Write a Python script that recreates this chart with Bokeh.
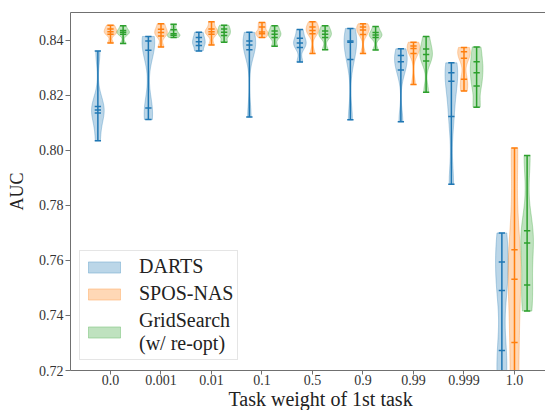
import numpy as np
from bokeh.plotting import figure
from bokeh.models import (Range1d, LinearAxis, FixedTicker, Legend, LegendItem,
                          NumeralTickFormatter, Title)
from bokeh.embed import file_html
from bokeh.resources import INLINE

categories = ["0.0", "0.001", "0.01", "0.1", "0.5", "0.9", "0.99", "0.999", "1.0"]
series_names = ["DARTS", "SPOS-NAS", "GridSearch\n(w/ re-opt)"]
colors = ["#1f77b4", "#ff7f0e", "#2ca02c"]
y_ticks = [0.72, 0.74, 0.76, 0.78, 0.80, 0.82, 0.84]
x_title = "Task weight of 1st task"
y_title = "AUC"

darts_min = [0.8035, 0.8112, 0.8361, 0.8121, 0.8321, 0.8111, 0.8104, 0.7877, 0.715]
darts_max = [0.8361, 0.8414, 0.8429, 0.8429, 0.8439, 0.8443, 0.8369, 0.8318, 0.7700]
darts_inner = [[0.8136, 0.8147, 0.8159], [0.8154, 0.8364, 0.8397], [0.8381, 0.8395, 0.8410],
               [0.8366, 0.8383, 0.8397], [0.8374, 0.8390, 0.8407], [0.8330, 0.8393, 0.8397],
               [0.8292, 0.8322, 0.8345], [0.8123, 0.8251, 0.8282], [0.7273, 0.7491, 0.7594]]

spos_min = [0.8390, 0.8376, 0.8383, 0.8410, 0.8352, 0.8352, 0.8239, 0.8216, 0.705]
spos_max = [0.8455, 0.8460, 0.8467, 0.8465, 0.8467, 0.8460, 0.8393, 0.8374, 0.8009]
spos_inner = [[0.8422, 0.8431, 0.8441], [0.8416, 0.8428, 0.8440], [0.8422, 0.8431, 0.8441],
              [0.8424, 0.8430, 0.8448], [0.8424, 0.8436, 0.8448], [0.8421, 0.8437, 0.8448],
              [0.8352, 0.8370, 0.8379], [0.8258, 0.8335, 0.8358], [0.7302, 0.7532, 0.7639]]

grid_min = [0.8388, 0.8410, 0.8393, 0.8378, 0.8366, 0.8365, 0.8211, 0.8157, 0.7416]
grid_max = [0.8453, 0.8458, 0.8455, 0.8453, 0.8453, 0.8450, 0.8414, 0.8376, 0.7981]
grid_inner = [[0.8422, 0.8429, 0.8436], [0.8418, 0.8424, 0.8438], [0.8417, 0.8429, 0.8441],
              [0.8410, 0.8422, 0.8434], [0.8410, 0.8422, 0.8434], [0.8410, 0.8419, 0.8428],
              [0.8325, 0.8348, 0.8368], [0.8234, 0.8282, 0.8322], [0.7511, 0.7663, 0.7708]]

series = [(darts_min, darts_max, darts_inner),
          (spos_min, spos_max, spos_inner),
          (grid_min, grid_max, grid_inner)]
offsets = [-0.25, 0.0, 0.25]
violin_width = 0.25
cap_half = 0.0625
bw_factor = 0.55
FONT = "Liberation Serif"

p = figure(width=545, height=410, x_range=Range1d(0.208, 9.614), y_range=Range1d(0.72, 0.8501),
           output_backend="svg", toolbar_location=None,
           min_border_left=70, min_border_right=0, min_border_top=12, min_border_bottom=40)
p.outline_line_color = None
p.xgrid.visible = False
p.ygrid.visible = False
p.background_fill_color = "white"
p.border_fill_color = "white"


def violin_outline(samples, pos, half_width):
    s = np.asarray(samples, dtype=float)
    bw = bw_factor * s.std(ddof=1) * len(s) ** (-0.2)
    ys = np.linspace(s.min(), s.max(), 150)
    d = np.exp(-0.5 * ((ys[:, None] - s[None, :]) / bw) ** 2).sum(axis=1)
    d = d / d.max() * half_width
    xs = np.concatenate([pos - d, (pos + d)[::-1]])
    yy = np.concatenate([ys, ys[::-1]])
    return xs.tolist(), yy.tolist()


legend_items = []
for k, (mins, maxs, inner) in enumerate(series):
    color = colors[k]
    pxs, pys = [], []
    bx, by0, by1 = [], [], []
    tx0, tx1, ty = [], [], []
    for i in range(len(categories)):
        pos = i + 1 + offsets[k]
        samples = [mins[i]] + list(inner[i]) + [maxs[i]]
        xs, ys = violin_outline(samples, pos, violin_width / 2)
        pxs.append(xs)
        pys.append(ys)
        bx.append(pos)
        by0.append(mins[i])
        by1.append(maxs[i])
        for v in [mins[i], maxs[i]] + list(inner[i]):
            tx0.append(pos - cap_half)
            tx1.append(pos + cap_half)
            ty.append(v)
    r = p.patches(xs=pxs, ys=pys, fill_color=color, fill_alpha=0.3,
                  line_color=color, line_alpha=0.3, line_width=1)
    p.segment(x0=bx, y0=by0, x1=bx, y1=by1, line_color=color, line_width=1.5)
    p.segment(x0=tx0, y0=ty, x1=tx1, y1=ty, line_color=color, line_width=1.5)
    legend_items.append(LegendItem(label=series_names[k], renderers=[r]))

axis_color = "#707070"
label_color = "#333333"

p.xaxis.ticker = FixedTicker(ticks=list(range(1, len(categories) + 1)))
p.xaxis.major_label_overrides = {i + 1: c for i, c in enumerate(categories)}
p.yaxis.ticker = FixedTicker(ticks=y_ticks)
p.yaxis.formatter = NumeralTickFormatter(format="0.00")

for ax in (p.xaxis[0], p.yaxis[0]):
    ax.axis_line_color = axis_color
    ax.axis_line_width = 1
    ax.major_tick_line_color = axis_color
    ax.major_tick_out = 5
    ax.major_tick_in = 0
    ax.minor_tick_line_color = None
    ax.major_label_text_font = FONT
    ax.major_label_text_font_size = "14px"
    ax.major_label_text_color = label_color
    ax.axis_label_text_font = FONT
    ax.axis_label_text_font_style = "normal"
    ax.axis_label_text_color = "#222222"

p.xaxis.major_tick_out = 4
p.xaxis.major_label_standoff = 0
p.yaxis.axis_label = y_title
p.yaxis.axis_label_text_font_size = "18px"
p.yaxis.major_label_standoff = 2
p.yaxis.axis_label_standoff = 9

p.add_layout(Title(text=x_title, align="left", offset=158, standoff=-4,
                   text_font=FONT, text_font_size="20px", text_font_style="normal",
                   text_color="#222222"), "below")

top = LinearAxis(ticker=FixedTicker(ticks=[]), axis_line_color=axis_color,
                 major_tick_line_color=None, minor_tick_line_color=None,
                 major_label_text_font_size="0px", major_tick_out=0, major_tick_in=0,
                 major_label_standoff=0)
p.add_layout(top, "above")

legend = Legend(items=legend_items, location=(9, 10), orientation="vertical",
                label_text_font=FONT, label_text_font_size="20px", label_text_color="#222222",
                label_text_line_height=1.2,
                glyph_width=40, glyph_height=14, label_standoff=15,
                padding=4, spacing=4, margin=0,
                border_line_color="#cccccc", border_line_width=1,
                background_fill_color="white", background_fill_alpha=0.85)
p.add_layout(legend, "center")

open("out.html", "w").write(file_html(p, INLINE))
